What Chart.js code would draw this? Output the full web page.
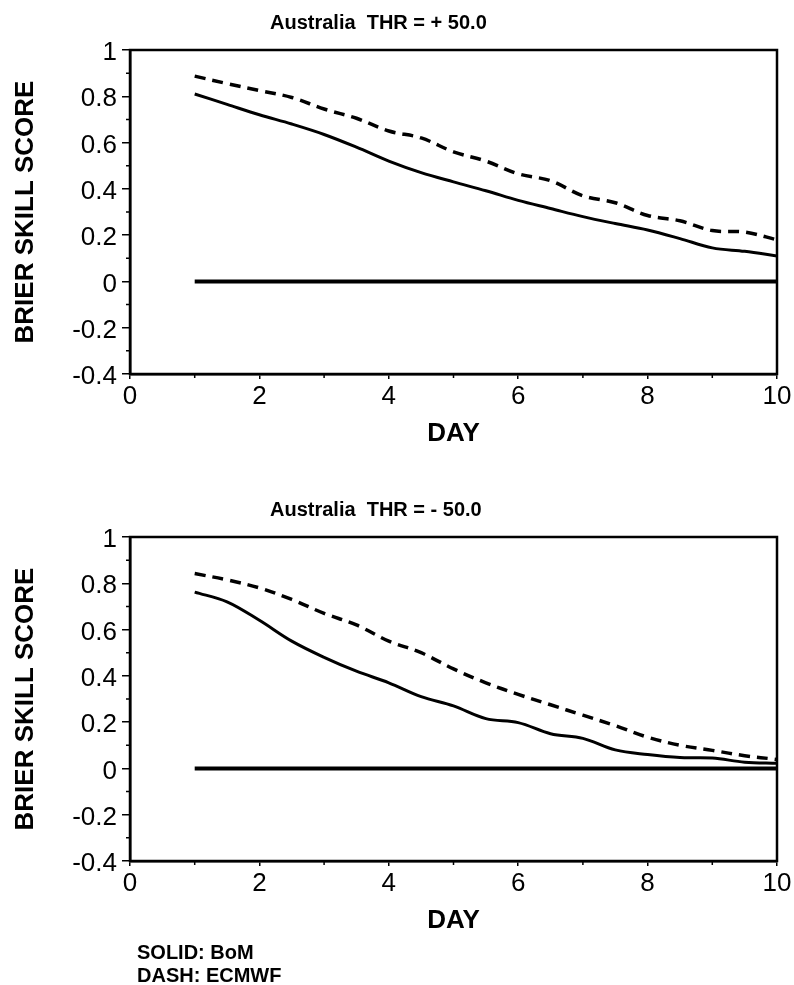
<!DOCTYPE html>
<html>
<head>
<meta charset="utf-8">
<title>Brier skill score - Australia</title>
<script src="https://cdn.jsdelivr.net/npm/chart.js@4.4.1/dist/chart.umd.min.js"></script>
<style>
  body { margin: 0; background: #fff; font-family: "Liberation Sans", Arial, sans-serif; }
  #page { position: relative; width: 794px; height: 985px; overflow: hidden; }
  .panel { position: absolute; left: 0; width: 794px; height: 460px; }
  .title { position: absolute; left: 270px; font-weight: bold; font-size: 20px; line-height: 20px; white-space: pre; }
  .key { position: absolute; left: 137px; top: 941px; font-weight: bold; font-size: 20px; line-height: 23px; }
</style>
</head>
<body>
<div id="page">
  <canvas id="plus-chart" class="panel" style="top: 0" width="794" height="460"></canvas>
  <canvas id="minus-chart" class="panel" style="top: 487px" width="794" height="460"></canvas>
  <div class="title" style="top: 12px">Australia  THR = + 50.0</div>
  <div class="title" style="top: 499px">Australia  THR = - 50.0</div>
  <div class="key">SOLID: BoM<br>DASH: ECMWF</div>
</div>
<script>
const FONT = '"Liberation Sans", Arial, sans-serif';

// forecast day (every half day)
const days = [1, 1.5, 2, 2.5, 3, 3.5, 4, 4.5, 5, 5.5, 6, 6.5, 7, 7.5, 8, 8.5, 9, 9.5, 10];

// THR = +50.0
const bomPlus = [0.81, 0.765, 0.72, 0.68, 0.635, 0.58, 0.52, 0.47, 0.43, 0.392, 0.35, 0.315, 0.28, 0.25, 0.222, 0.185, 0.145, 0.13, 0.11];
const ecmwfPlus = [0.887, 0.855, 0.825, 0.795, 0.745, 0.705, 0.65, 0.62, 0.56, 0.52, 0.465, 0.435, 0.37, 0.34, 0.285, 0.262, 0.22, 0.213, 0.18];

// THR = -50.0
const bomMinus = [0.762, 0.72, 0.64, 0.55, 0.48, 0.42, 0.37, 0.31, 0.27, 0.215, 0.198, 0.15, 0.13, 0.08, 0.06, 0.047, 0.045, 0.027, 0.022];
const ecmwfMinus = [0.842, 0.815, 0.78, 0.73, 0.67, 0.62, 0.55, 0.5, 0.43, 0.37, 0.32, 0.275, 0.23, 0.185, 0.135, 0.1, 0.078, 0.055, 0.039];

// zero reference line
const zeroDays = [1, 10];
const zeroValues = [0, 0];

// axes
const xTicks = [0, 2, 4, 6, 8, 10];
const xMinor = [1, 3, 5, 7, 9];
const yTicks = [-0.4, -0.2, 0, 0.2, 0.4, 0.6, 0.8, 1];
const yTickLabels = ["-0.4", "-0.2", "0", "0.2", "0.4", "0.6", "0.8", "1"];
const yMinor = [-0.3, -0.1, 0.1, 0.3, 0.5, 0.7, 0.9];

function toPoints(xs, ys) {
  return xs.map((x, i) => ({ x: x, y: ys[i] }));
}

// box around the plot + the small minor ticks
const framePlugin = {
  id: "frame",
  afterDraw(chart) {
    const { ctx, chartArea, scales } = chart;
    ctx.save();
    ctx.strokeStyle = "#000";
    ctx.lineWidth = 2.5;
    ctx.strokeRect(chartArea.left, chartArea.top, chartArea.right - chartArea.left, chartArea.bottom - chartArea.top);
    ctx.lineWidth = 1.5;
    ctx.beginPath();
    yMinor.forEach((v) => {
      const y = scales.y.getPixelForValue(v);
      ctx.moveTo(chartArea.left - 4, y);
      ctx.lineTo(chartArea.left, y);
    });
    xMinor.forEach((v) => {
      const x = scales.x.getPixelForValue(v);
      ctx.moveTo(x, chartArea.bottom);
      ctx.lineTo(x, chartArea.bottom + 4);
    });
    ctx.stroke();
    ctx.restore();
  },
};

function makeChart(canvasId, bom, ecmwf) {
  const canvas = document.querySelector(canvasId);
  return new Chart(canvas.getContext("2d"), {
    type: "line",
    data: {
      datasets: [
        {
          label: "zero",
          data: toPoints(zeroDays, zeroValues),
          borderColor: "#000",
          borderWidth: 4,
          tension: 0,
        },
        {
          label: "ECMWF",
          data: toPoints(days, ecmwf),
          borderColor: "#000",
          borderWidth: 3.5,
          borderDash: [11, 7],
          tension: 0.35,
        },
        {
          label: "BoM",
          data: toPoints(days, bom),
          borderColor: "#000",
          borderWidth: 3,
          tension: 0.35,
        },
      ],
    },
    options: {
      responsive: false,
      animation: false,
      layout: { padding: { top: 50, right: 17, left: 0, bottom: 0 } },
      elements: { point: { radius: 0 } },
      plugins: {
        legend: { display: false },
        title: { display: false },
        tooltip: { enabled: false },
      },
      scales: {
        x: {
          type: "linear",
          min: 0,
          max: 10,
          afterBuildTicks: (scale) => {
            scale.ticks = xTicks.map((v) => ({ value: v }));
          },
          afterFit: (scale) => {
            scale.height = 86;
          },
          grid: { drawOnChartArea: false, drawTicks: true, tickLength: 5, color: "#000", lineWidth: 1.5 },
          border: { display: true, color: "#000", width: 2.5 },
          ticks: {
            color: "#000",
            font: { size: 26, family: FONT },
            padding: 2,
            maxRotation: 0,
            autoSkip: false,
          },
          title: {
            display: true,
            text: "DAY",
            color: "#000",
            font: { size: 26, weight: "bold", family: FONT },
            padding: { top: 0, bottom: 11 },
          },
        },
        y: {
          type: "linear",
          min: -0.4,
          max: 1,
          afterBuildTicks: (scale) => {
            scale.ticks = yTicks.map((v) => ({ value: v }));
          },
          afterFit: (scale) => {
            scale.width = 130;
          },
          grid: { drawOnChartArea: false, drawTicks: true, tickLength: 8, color: "#000", lineWidth: 1.5 },
          border: { display: true, color: "#000", width: 2.5 },
          ticks: {
            color: "#000",
            font: { size: 26, family: FONT },
            padding: 5,
            labelOffset: 3,
            autoSkip: false,
            callback: (value, index) => yTickLabels[index],
          },
          title: {
            display: true,
            text: "BRIER SKILL SCORE",
            color: "#000",
            font: { size: 26, weight: "bold", family: FONT },
            padding: { top: 10, bottom: 0 },
          },
        },
      },
    },
    plugins: [framePlugin],
  });
}

makeChart("#plus-chart", bomPlus, ecmwfPlus);
makeChart("#minus-chart", bomMinus, ecmwfMinus);
</script>
</body>
</html>
